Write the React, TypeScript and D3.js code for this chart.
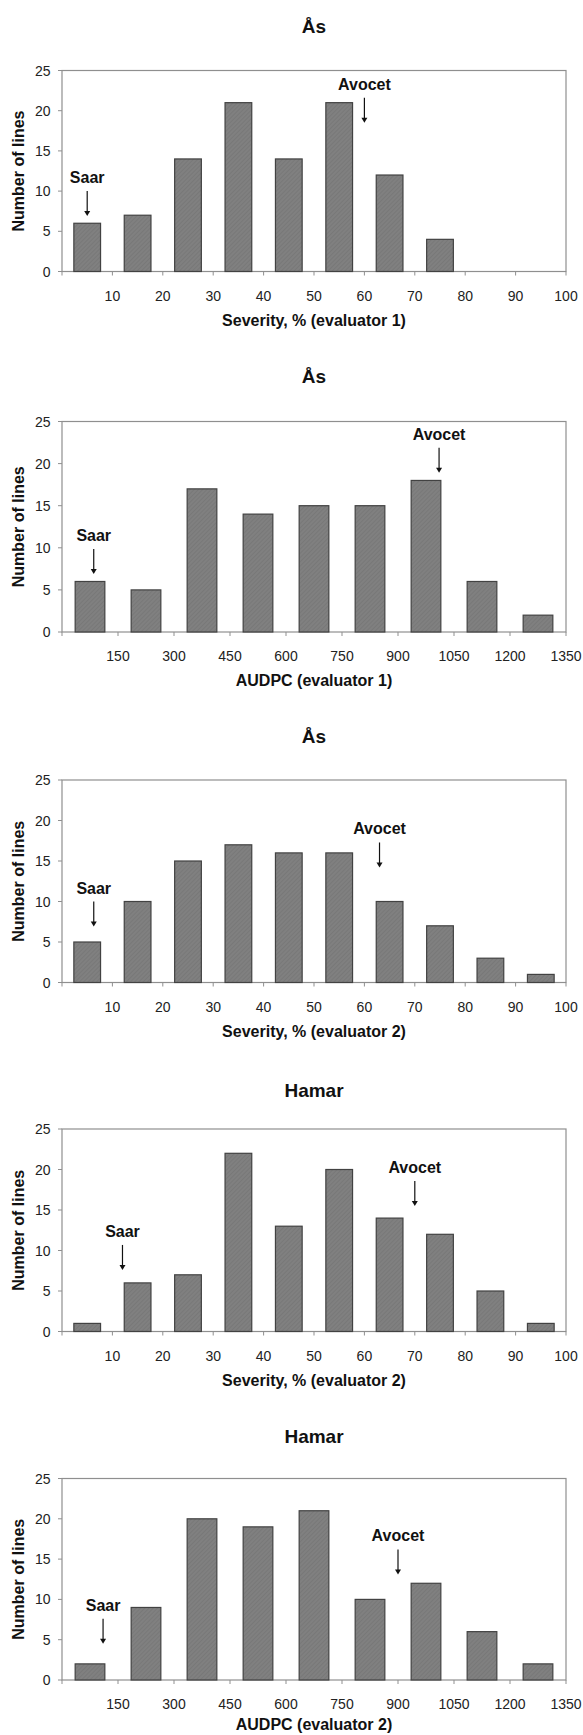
import React from 'react'
import * as d3 from 'd3'

// chart titles and axis titles
const titles = ['Ås', 'Ås', 'Ås', 'Hamar', 'Hamar']
const xTitles = [
	'Severity, % (evaluator 1)',
	'AUDPC (evaluator 1)',
	'Severity, % (evaluator 2)',
	'Severity, % (evaluator 2)',
	'AUDPC (evaluator 2)',
]

// bin upper edges (tick labels)
const severityTicks = [10, 20, 30, 40, 50, 60, 70, 80, 90, 100]
const audpcTicks = [150, 300, 450, 600, 750, 900, 1050, 1200, 1350]
const yTicks = [0, 5, 10, 15, 20, 25]

// number of lines per bin
const asSeverity1 = [6, 7, 14, 21, 14, 21, 12, 4, 0, 0]
const asAudpc1 = [6, 5, 17, 14, 15, 15, 18, 6, 2]
const asSeverity2 = [5, 10, 15, 17, 16, 16, 10, 7, 3, 1]
const hamarSeverity2 = [1, 6, 7, 22, 13, 20, 14, 12, 5, 1]
const hamarAudpc2 = [2, 9, 20, 19, 21, 10, 12, 6, 2]

// where the cultivars fall (x value, arrow tip height)
const saarX = [5, 85, 6.3, 12, 110]
const saarTip = [6.9, 6.9, 6.9, 7.6, 4.5]
const avocetX = [60, 1010, 63, 70, 900]
const avocetTip = [18.5, 18.9, 14.2, 15.5, 13.1]

const series = [asSeverity1, asAudpc1, asSeverity2, hamarSeverity2, hamarAudpc2]
const tickSets = [severityTicks, audpcTicks, severityTicks, severityTicks, audpcTicks]

// layout of each panel on the page
const panels = [
	{ top: 70.5, bottom: 271.5, titleY: 33 },
	{ top: 421.5, bottom: 632, titleY: 383 },
	{ top: 780, bottom: 982.5, titleY: 743 },
	{ top: 1129, bottom: 1331.5, titleY: 1097 },
	{ top: 1478.5, bottom: 1680, titleY: 1443 },
]

const W = 583
const H = 1735
const left = 62
const right = 566
const font = "'Liberation Sans', Arial, sans-serif"

function Arrow({ x, tip, label }) {
	const len = 25
	return (
		<g>
			<text x={x} y={tip - len - 8} textAnchor="middle" fontFamily={font}
				fontWeight="bold" fontSize={16} fill="#111">{label}</text>
			<line x1={x} x2={x} y1={tip - len} y2={tip - 4} stroke="#111" strokeWidth={1.2} />
			<path d={`M${x - 3},${tip - 5}L${x + 3},${tip - 5}L${x},${tip}Z`} fill="#111" />
		</g>
	)
}

function Panel({ i }) {
	const p = panels[i]
	const ticks = tickSets[i]
	const values = series[i]
	const xMax = ticks[ticks.length - 1]

	const x = d3.scaleLinear().domain([0, xMax]).range([left, right])
	const band = d3
		.scaleBand()
		.domain(values.map((_, k) => String(k)))
		.range([left, right])
		.paddingInner(0.47)
		.paddingOuter(0.235)
	const y = d3.scaleLinear().domain([0, 25]).range([p.bottom, p.top])
	const cx = (left + right) / 2

	return (
		<g>
			<text x={cx} y={p.titleY} textAnchor="middle" fontFamily={font}
				fontWeight="bold" fontSize={19} fill="#111">{titles[i]}</text>

			<rect x={left} y={p.top} width={right - left} height={p.bottom - p.top}
				fill="none" stroke="#8f8f8f" strokeWidth={1.2} />

			{yTicks.map(t => (
				<g key={t}>
					<line x1={left - 4} x2={left} y1={y(t)} y2={y(t)} stroke="#8f8f8f" />
					<text x={50.5} y={y(t) + 5} textAnchor="end" fontFamily={font}
						fontSize={14} fill="#222">{t}</text>
				</g>
			))}

			{[0, ...ticks].map(t => (
				<line key={t} x1={x(t)} x2={x(t)} y1={p.bottom} y2={p.bottom + 4} stroke="#8f8f8f" />
			))}
			{ticks.map(t => (
				<text key={t} x={x(t)} y={p.bottom + 29} textAnchor="middle" fontFamily={font}
					fontSize={14} fill="#222">{t}</text>
			))}

			{values.map((v, k) => v > 0 && (
				<rect key={k} x={band(String(k))} y={y(v)} width={band.bandwidth()}
					height={p.bottom - y(v)} fill="url(#hatch)" stroke="#424242" strokeWidth={1.2} />
			))}

			<Arrow x={x(saarX[i])} tip={y(saarTip[i])} label="Saar" />
			<Arrow x={x(avocetX[i])} tip={y(avocetTip[i])} label="Avocet" />

			<text transform={`translate(24,${(p.top + p.bottom) / 2}) rotate(-90)`}
				textAnchor="middle" fontFamily={font} fontWeight="bold" fontSize={16}
				fill="#111">Number of lines</text>
			<text x={cx} y={Math.min(p.bottom + 54, H - 5)} textAnchor="middle" fontFamily={font}
				fontWeight="bold" fontSize={16} fill="#111">{xTitles[i]}</text>
		</g>
	)
}

export default function App() {
	return (
		<svg width={W} height={H} style={{ position: 'absolute', left: 0, top: 0, background: '#fff' }}>
			<defs>
				<pattern id="hatch" width={3} height={3} patternUnits="userSpaceOnUse"
					patternTransform="rotate(45)">
					<rect width={3} height={3} fill="#808080" />
					<line x1={0} y1={0} x2={0} y2={3} stroke="#707070" strokeWidth={1} />
				</pattern>
			</defs>
			{panels.map((_, i) => <Panel key={i} i={i} />)}
		</svg>
	)
}
